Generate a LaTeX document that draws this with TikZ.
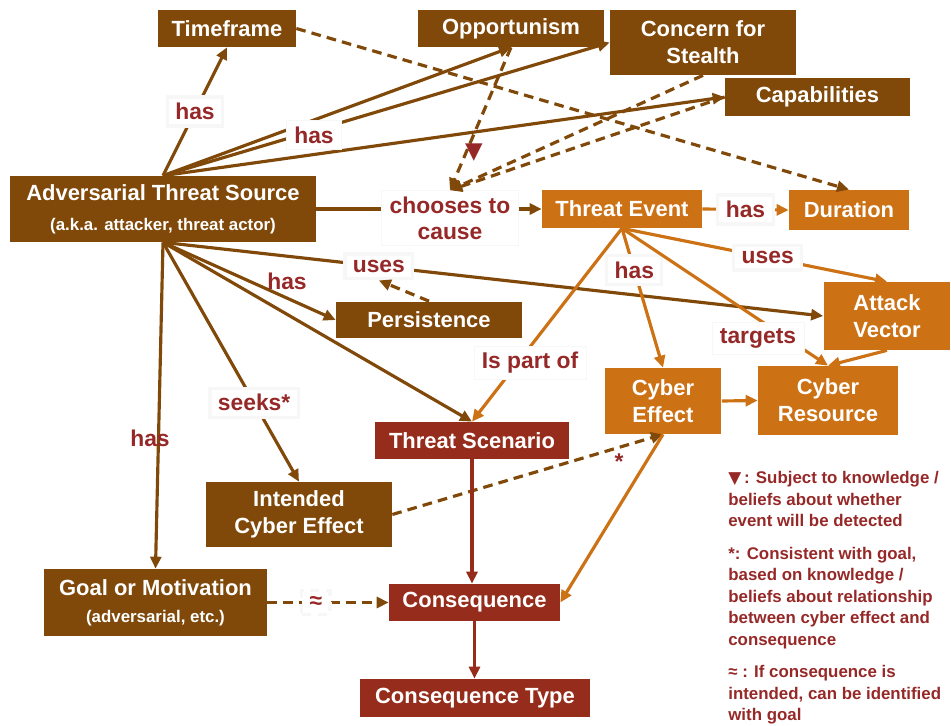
\documentclass[tikz,border=0pt]{standalone}
\usepackage{fontspec}
\setmainfont{Liberation Sans}
\newfontfamily\symbolFont{DejaVu Sans}
\usetikzlibrary{arrows.meta}

\definecolor{colBrown}{RGB}{128,73,9}
\definecolor{colOrange}{RGB}{204,113,20}
\definecolor{colRed}{RGB}{150,45,28}
\definecolor{colLabel}{RGB}{150,40,40}

\tikzstyle{box}=[inner sep=0pt, text=white, align=center, font=\bfseries\fontsize{12.5}{15.5}\selectfont]
\tikzstyle{brownBox}=[box, fill=colBrown]
\tikzstyle{orangeBox}=[box, fill=colOrange]
\tikzstyle{redBox}=[box, fill=colRed]
\tikzstyle{edgeLabel}=[fill=white, draw=black!3, inner xsep=4.5pt, inner ysep=3.5pt, text=colLabel, align=center, font=\bfseries\fontsize{13}{14.7}\selectfont]
\tikzstyle{plainLabel}=[edgeLabel, fill=none, draw=none]
\tikzstyle{brownEdge}=[colBrown, line width=1.8pt]
\tikzstyle{orangeEdge}=[colOrange, line width=1.8pt]
\tikzstyle{redEdge}=[colRed, line width=1.8pt]
\tikzstyle{dashedEdge}=[brownEdge, dash pattern=on 5.5pt off 3.5pt]

\newcommand{\subLine}{\fontsize{9.6}{11}\selectfont}

\begin{document}
\begin{tikzpicture}[x=0.02cm, y=-0.02cm, >={Triangle[length=2.4mm,width=2.2mm]}]

	\useasboundingbox (0,0) rectangle (951,726);

	% Angreifer und Eigenschaften
	\node(time) at (227,28.5) [brownBox, minimum width=2.76cm, minimum height=0.74cm] {Timeframe};
	\node(opp) at (511,28.5) [brownBox, minimum width=3.72cm, minimum height=0.74cm] {Opportunism};
	\node(stealth) at (703,42.5) [brownBox, minimum width=3.72cm, minimum height=1.3cm] {Concern for\\Stealth};
	\node(cap) at (817.5,97) [brownBox, minimum width=3.7cm, minimum height=0.76cm] {Capabilities};
	\node(ats) at (163,209) [brownBox, minimum width=6.12cm, minimum height=1.32cm] {Adversarial Threat Source\\[1.5pt]{\subLine (a.k.a. attacker, threat actor)}};
	\node(pers) at (429,320) [brownBox, minimum width=3.72cm, minimum height=0.74cm] {Persistence};
	\node(ice) at (299,514.5) [brownBox, minimum width=3.72cm, minimum height=1.3cm] {Intended\\Cyber Effect};
	\node(goal) at (155.5,602.5) [brownBox, minimum width=4.46cm, minimum height=1.34cm] {Goal or Motivation\\{\subLine (adversarial, etc.)}};

	% Ereignis
	\node(choose) at (450,218) [edgeLabel] {chooses to\\cause};
	\node(te) at (622,209) [orangeBox, minimum width=3.2cm, minimum height=0.76cm] {Threat Event};
	\node(dur) at (849,210) [orangeBox, minimum width=2.4cm, minimum height=0.8cm] {Duration};
	\node(av) at (887,316) [orangeBox, minimum width=2.54cm, minimum height=1.36cm] {Attack\\Vector};
	\node(ce) at (663,401) [orangeBox, minimum width=2.34cm, minimum height=1.32cm] {Cyber\\Effect};
	\node(cr) at (828,400.5) [orangeBox, minimum width=2.8cm, minimum height=1.38cm] {Cyber\\Resource};

	% Szenario und Folgen
	\node(ts) at (472,440.5) [redBox, minimum width=3.88cm, minimum height=0.74cm] {Threat Scenario};
	\node(cons) at (474.5,602.5) [redBox, minimum width=3.42cm, minimum height=0.74cm] {Consequence};
	\node(ctype) at (475,698) [redBox, minimum width=4.6cm, minimum height=0.76cm] {Consequence Type};

	% Kanten vom Angreifer
	\draw[->, brownEdge] (ats.north) -- node[edgeLabel]{has} (time.south);
	\draw[->, brownEdge] (ats.north) -- (opp.south);
	\draw[->, brownEdge] (ats.north) -- (stealth.west);
	\draw[->, brownEdge] (ats.north) -- (cap.west);
	\node(hasTop) at (314,135) [edgeLabel] {has};
	\draw[brownEdge] (ats.east) -- (ats.east -| choose.west);
	\draw[->, brownEdge] (choose.east |- te.west) -- (te.west);
	\draw[->, brownEdge] (ats.south) -- (pers.west);
	\node(hasPers) at (287,281) [plainLabel] {has};
	\draw[->, brownEdge] (ats.south) -- node[edgeLabel, pos=0.327](usesA){uses} (av.west);
	\draw[->, brownEdge] (ats.south) -- (ts.north);
	\draw[->, brownEdge] (ats.south) -- node[edgeLabel, pos=0.67]{seeks*} (ice.north);
	\draw[->, brownEdge] (ats.south) -- (goal.north);
	\node(hasGoal) at (150,438) [plainLabel] {has};

	% gestrichelt
	\draw[->, dashedEdge] (time.east) -- (dur.north);
	\draw[->, dashedEdge] (opp.south) -- (choose.north);
	\draw[->, dashedEdge] (stealth.south) -- (choose.north);
	\draw[->, dashedEdge] (cap.west) -- (choose.north);
	\draw[->, dashedEdge] (pers.north) -- (usesA.south);
	\draw[->, dashedEdge] (ice.east) -- (ce.south);
	\node(star) at (619,462) [plainLabel] {*};
	\draw[->, dashedEdge] (goal.east) -- node[edgeLabel, pos=0.4]{≈} (cons.west);
	\node(detectMark) at (474,153) [text=colLabel, font=\symbolFont\fontsize{13}{13}\selectfont] {▼};

	% Kanten vom Ereignis
	\draw[->, orangeEdge] (te.east) -- node[edgeLabel]{has} (dur.west);
	\draw[->, orangeEdge] (te.south) -- (ts.north);
	\node(partOf) at (530,363) [edgeLabel] {Is part of};
	\draw[->, orangeEdge] (te.south) -- node[edgeLabel, pos=0.3]{has} (ce.north);
	\draw[->, orangeEdge] (te.south) -- (cr.north);
	\node(targets) at (758,338) [edgeLabel] {targets};
	\draw[->, orangeEdge] (te.south) -- node[edgeLabel, pos=0.55]{uses} (av.north);
	\draw[->, orangeEdge] (av.south) -- (cr.north);
	\draw[->, orangeEdge] (ce.east) -- (cr.west);
	\draw[->, orangeEdge] (ce.south) -- (cons.east);

	\draw[->, redEdge] (ts.south) -- (ts.south |- cons.north);
	\draw[->, redEdge] (cons.south) -- (cons.south |- ctype.north);

	% Legende
	\node(legend) at (728,471) [anchor=north west, inner sep=0pt, align=left, text=colLabel, font=\bfseries\fontsize{9.6}{12.2}\selectfont] {{\symbolFont▼}\,: Subject to knowledge /\\beliefs about whether\\event will be detected\\[6.5pt]
		*: Consistent with goal,\\based on knowledge /\\beliefs about relationship\\between cyber effect and\\consequence\\[6.5pt]
		≈ : If consequence is\\intended, can be identified\\with goal};

\end{tikzpicture}
\end{document}
